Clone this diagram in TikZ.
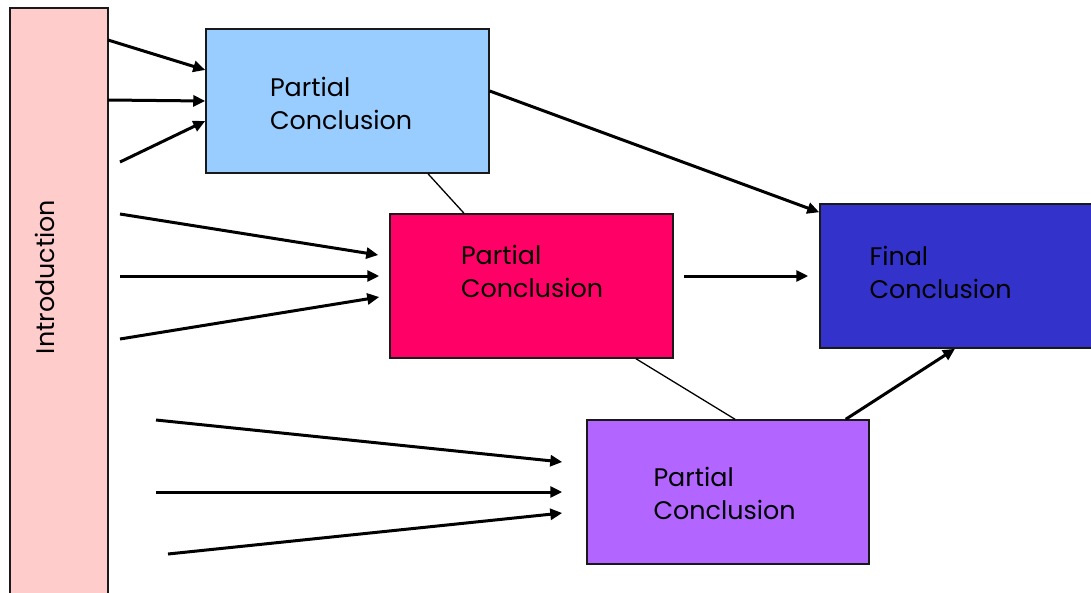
\documentclass[tikz,border=0pt]{standalone}
\usepackage{fontspec}
\setmainfont{Poppins}
\usetikzlibrary{arrows.meta}

\definecolor{introfill}{HTML}{FFCCCC}
\definecolor{pcblue}{HTML}{99CCFF}
\definecolor{pcred}{HTML}{FF0066}
\definecolor{pcpurple}{HTML}{B266FF}
\definecolor{finblue}{HTML}{3333CC}

\tikzset{
	box/.style={draw=black!90,line width=1.5pt,minimum width=283pt,minimum height=144pt,inner sep=0pt},
	txt/.style={align=left,text width=145pt,inner sep=0pt,font=\fontsize{25.4}{33}\selectfont},
	arr/.style={-{Triangle[length=12pt,width=11pt]},line width=3pt},
	thin/.style={line width=1.3pt}
}

\begin{document}
\begin{tikzpicture}[x=1pt,y=-1pt]
	\useasboundingbox (0,0) rectangle (1091,592);
	\draw (59,314) node(intro) [box,fill=introfill,minimum width=98pt,minimum height=612pt,
		label={[txt,text width=,rotate=90,xshift=37pt,yshift=14pt]center:Introduction}] {};
	\draw (347.5,101) node(pc1) [box,fill=pcblue,
		label={[txt,yshift=-2pt,xshift=-5pt]center:{Partial\\Conclusion}}] {};
	\draw (531.5,286) node(pc2) [box,fill=pcred,
		label={[txt,yshift=15pt,xshift=2pt]center:{Partial\\Conclusion}}] {};
	\draw (728,492) node(pc3) [box,fill=pcpurple,minimum width=282pt,
		label={[txt,yshift=-1pt,xshift=-2pt]center:{Partial\\Conclusion}}] {};
	\draw (960,276) node(fin) [box,fill=finblue,minimum width=280pt,
		label={[txt,yshift=4pt,xshift=-18pt]center:{Final\\Conclusion}}] {};
	\coordinate (s1) at (108,40);
	\coordinate (s2) at (108,100);
	\coordinate (s3) at (120,162);
	\coordinate (s4) at (120,214);
	\coordinate (s5) at (120,276);
	\coordinate (s6) at (120,339);
	\coordinate (s7) at (156,420);
	\coordinate (s8) at (156,492);
	\coordinate (s9) at (168,554);
	\coordinate (s10) at (684,276);
	% into the first partial conclusion
	\path[draw,arr] (s1) -- ([yshift=31pt]pc1.west);
	\path[draw,arr] (s2) -- (pc1.west);
	\path[draw,arr] (s3) -- ([yshift=-20pt]pc1.west);
	% into the second
	\path[draw,arr] (s4) -- ([xshift=-11pt,yshift=31pt]pc2.west);
	\path[draw,arr] (s5) -- ([xshift=-10pt,yshift=10pt]pc2.west);
	\path[draw,arr] (s6) -- ([xshift=-10pt,yshift=-11pt]pc2.west);
	% into the third
	\path[draw,arr] (s7) -- ([xshift=-24pt,yshift=30pt]pc3.west);
	\path[draw,arr] (s8) -- ([xshift=-24pt]pc3.west);
	\path[draw,arr] (s9) -- ([xshift=-24pt,yshift=-21pt]pc3.west);
	% towards the final conclusion
	\path[draw,arr] (s10) -- ([xshift=-11pt]fin.west);
	\path[draw,arr] ([yshift=10pt]pc1.east) -- ([yshift=-9pt]fin.north west);
	\path[draw,arr] ([xshift=-24pt]pc3.north east) -- ([xshift=-5pt]fin.south);
	\path[draw,thin] ([xshift=80.5pt]pc1.south) -- ([xshift=-67.5pt]pc2.north);
	\path[draw,thin] ([xshift=104.5pt]pc2.south) -- ([xshift=7pt]pc3.north);
\end{tikzpicture}
\end{document}
